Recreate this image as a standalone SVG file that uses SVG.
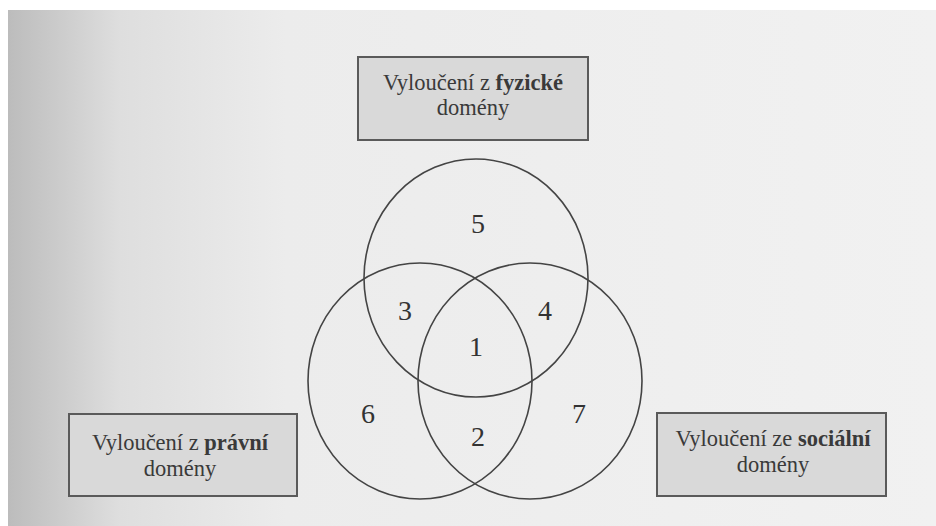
<svg xmlns="http://www.w3.org/2000/svg" width="936" height="526" viewBox="0 0 936 526">
<defs>
<linearGradient id="bg" x1="0" y1="0" x2="1" y2="0">
<stop offset="0" stop-color="#bcbcbc"/>
<stop offset="0.12" stop-color="#dedede"/>
<stop offset="0.3" stop-color="#ececec"/>
<stop offset="1" stop-color="#f1f1f1"/>
</linearGradient>
<style>
.box{fill:#d9d9d9;stroke:#5a5a5a;stroke-width:2}
.lbl{font-family:"Liberation Serif",serif;font-size:22.5px;fill:#3a3a3a;text-anchor:middle}
.b{font-weight:bold}
.ring{fill:none;stroke:#444;stroke-width:1.6}
.num{font-family:"Liberation Serif",serif;font-size:28px;fill:#333;text-anchor:middle}
</style>
</defs>
<rect width="936" height="526" fill="#ffffff"/>
<rect x="8" y="10" width="928" height="516" fill="url(#bg)"/>
<g id="connectors">
<ellipse id="c-fyzicke" class="ring" cx="476" cy="278" rx="112" ry="119"/>
<ellipse id="c-pravni" class="ring" cx="420" cy="381" rx="112" ry="118"/>
<ellipse id="c-socialni" class="ring" cx="530" cy="381" rx="112" ry="118"/>
</g>
<g id="numbers">
<text class="num" x="478" y="233">5</text>
<text class="num" x="405" y="320">3</text>
<text class="num" x="545" y="320">4</text>
<text class="num" x="476" y="356">1</text>
<text class="num" x="368" y="423">6</text>
<text class="num" x="478" y="446">2</text>
<text class="num" x="579" y="423">7</text>
</g>
<g id="node-fyzicke">
<rect class="box" x="358" y="57" width="230" height="83"/>
<text class="lbl" x="473" y="90">Vyloučení z <tspan class="b">fyzické</tspan></text>
<text class="lbl" x="473" y="115">domény</text>
</g>
<g id="node-pravni">
<rect class="box" x="69" y="414" width="228" height="82"/>
<text class="lbl" x="180" y="450">Vyloučení z <tspan class="b">právní</tspan></text>
<text class="lbl" x="180" y="476">domény</text>
</g>
<g id="node-socialni">
<rect class="box" x="657" y="413" width="229" height="83"/>
<text class="lbl" x="773" y="446">Vyloučení ze <tspan class="b">sociální</tspan></text>
<text class="lbl" x="773" y="472">domény</text>
</g>
</svg>
